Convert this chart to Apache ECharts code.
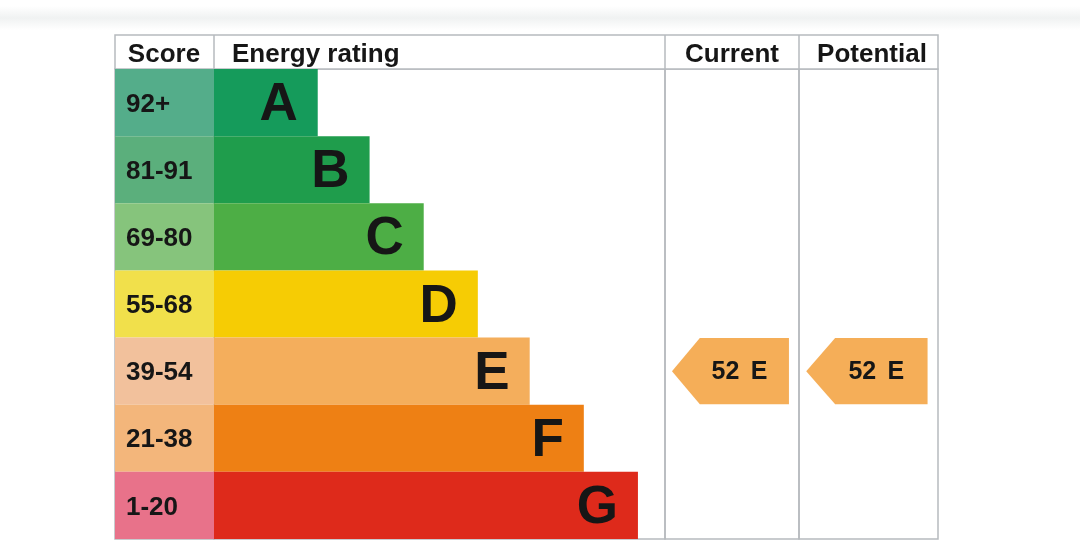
<!DOCTYPE html>
<html><head><meta charset="utf-8">
<script src="https://cdn.jsdelivr.net/npm/echarts@6/dist/echarts.min.js"></script>
<style>html,body{margin:0;padding:0;background:#fff}#c{width:1080px;height:557px}</style>
</head><body><div id="c"></div>
<script>
// ---- data ----
const ratings = ['A', 'B', 'C', 'D', 'E', 'F', 'G'];
const scoreBands = ['92+', '81-91', '69-80', '55-68', '39-54', '21-38', '1-20'];
const bandMin = [92, 81, 69, 55, 39, 21, 1];
const barLengths = [23, 34.5, 46.5, 58.5, 70, 82, 94]; // relative bar length (% of column)
const currentScore = 52;
const potentialScore = 52;
const headers = ['Score', 'Energy rating', 'Current', 'Potential'];

// ---- style ----
const barColors = ['#159b5b', '#1f9d4c', '#4dae45', '#f6cc04', '#f4ae5c', '#ee8014', '#de2a1b'];
const scoreColors = ['#54ad8a', '#5baf7c', '#86c47c', '#f1e04b', '#f2c19c', '#f3b67b', '#e8728a'];
const arrowColor = '#f5ae58';
const lineColor = '#b6babe';
const FONT = '"Liberation Sans", Arial, sans-serif';
const TXT = '#161616';

function ratingOf(score) {
  for (let i = 0; i < bandMin.length; i++) if (score >= bandMin[i]) return ratings[i];
  return ratings[ratings.length - 1];
}

const chart = echarts.init(document.getElementById('c'), null, {renderer: 'canvas'});

const T = 69, H = 470;
const cols = [[115, 99], [214, 451], [665, 134], [799, 139]];
const grids = cols.map(c => ({left: c[0], top: T, width: c[1], height: H, show: true,
  borderColor: lineColor, borderWidth: 1.5, backgroundColor: 'transparent', containLabel: false}));
const xAxes = cols.map((c, i) => ({type: 'value', gridIndex: i, min: 0, max: 100, show: false}));
const yAxes = cols.map((c, i) => ({type: 'category', gridIndex: i, data: ratings, inverse: true, show: false}));

function arrowItem(params, api) {
  const cs = params.coordSys;
  const yc = api.coord([0, api.value(1)])[1];
  const h = api.size([0, 1])[1];
  const tip = cs.x + cs.width * 0.052;
  const body = cs.x + cs.width * 0.26;
  const right = cs.x + cs.width * 0.925;
  const top = yc - h / 2 + 0.5, bot = yc + h / 2 - 0.5;
  const score = api.value(0);
  return {
    type: 'group',
    children: [
      {type: 'polygon', shape: {points: [[tip, yc], [body, top], [right, top], [right, bot], [body, bot]]},
        style: {fill: arrowColor}},
      {type: 'text', style: {
        text: '{n|' + score + '} {r|' + ratingOf(score) + '}',
        x: (body + right) / 2 - 5, y: yc + 1, align: 'center', verticalAlign: 'middle',
        rich: {
          n: {fontFamily: FONT, fontWeight: 'bold', fontSize: 25, fill: TXT},
          r: {fontFamily: FONT, fontWeight: 'bold', fontSize: 25, fill: TXT, padding: [0, 0, 0, 8]}
        }
      }}
    ]
  };
}

const HF = 'bold 26px ' + FONT;
const headerGraphics = [
  {type: 'rect', shape: {x: 0, y: 6, width: 1080, height: 24},
    style: {fill: new echarts.graphic.LinearGradient(0, 0, 0, 1, [
      {offset: 0, color: '#ffffff'}, {offset: 0.5, color: '#f0f2f2'}, {offset: 1, color: '#ffffff'}])}, z: -10},
  {type: 'rect', shape: {x: 115, y: 35, width: 823, height: 34}, style: {fill: '#fff', stroke: lineColor, lineWidth: 1.5}},
  {type: 'line', shape: {x1: 214, y1: 35, x2: 214, y2: 69}, style: {stroke: lineColor, lineWidth: 1.5}},
  {type: 'line', shape: {x1: 665, y1: 35, x2: 665, y2: 69}, style: {stroke: lineColor, lineWidth: 1.5}},
  {type: 'line', shape: {x1: 799, y1: 35, x2: 799, y2: 69}, style: {stroke: lineColor, lineWidth: 1.5}},
  {type: 'text', style: {text: headers[0], x: 164, y: 55, align: 'center', verticalAlign: 'middle', font: HF, fill: TXT}},
  {type: 'text', style: {text: headers[1], x: 232, y: 55, align: 'left', verticalAlign: 'middle', font: HF, fill: TXT}},
  {type: 'text', style: {text: headers[2], x: 732, y: 55, align: 'center', verticalAlign: 'middle', font: HF, fill: TXT}},
  {type: 'text', style: {text: headers[3], x: 872, y: 55, align: 'center', verticalAlign: 'middle', font: HF, fill: TXT}}
];

chart.setOption({
  animation: false,
  backgroundColor: '#ffffff',
  grid: grids,
  xAxis: xAxes,
  yAxis: yAxes,
  graphic: headerGraphics,
  series: [
    {
      type: 'bar', xAxisIndex: 0, yAxisIndex: 0, barCategoryGap: 0,
      data: scoreBands.map((s, i) => ({value: 100, itemStyle: {color: scoreColors[i]}})),
      label: {show: true, position: 'insideLeft', distance: 11, offset: [0, 2],
        formatter: p => scoreBands[p.dataIndex],
        fontFamily: FONT, fontWeight: 'bold', fontSize: 26, color: TXT}
    },
    {
      type: 'bar', xAxisIndex: 1, yAxisIndex: 1, barCategoryGap: 0,
      data: barLengths.map((v, i) => ({value: v, itemStyle: {color: barColors[i]}})),
      label: {show: true, position: 'insideRight', distance: 20, offset: [0, 3],
        formatter: p => ratings[p.dataIndex],
        fontFamily: FONT, fontWeight: 'bold', fontSize: 53, color: TXT}
    },
    {
      type: 'custom', xAxisIndex: 2, yAxisIndex: 2,
      data: [[currentScore, ratingOf(currentScore)]],
      renderItem: arrowItem
    },
    {
      type: 'custom', xAxisIndex: 3, yAxisIndex: 3,
      data: [[potentialScore, ratingOf(potentialScore)]],
      renderItem: arrowItem
    }
  ]
});
</script>
</body></html>
